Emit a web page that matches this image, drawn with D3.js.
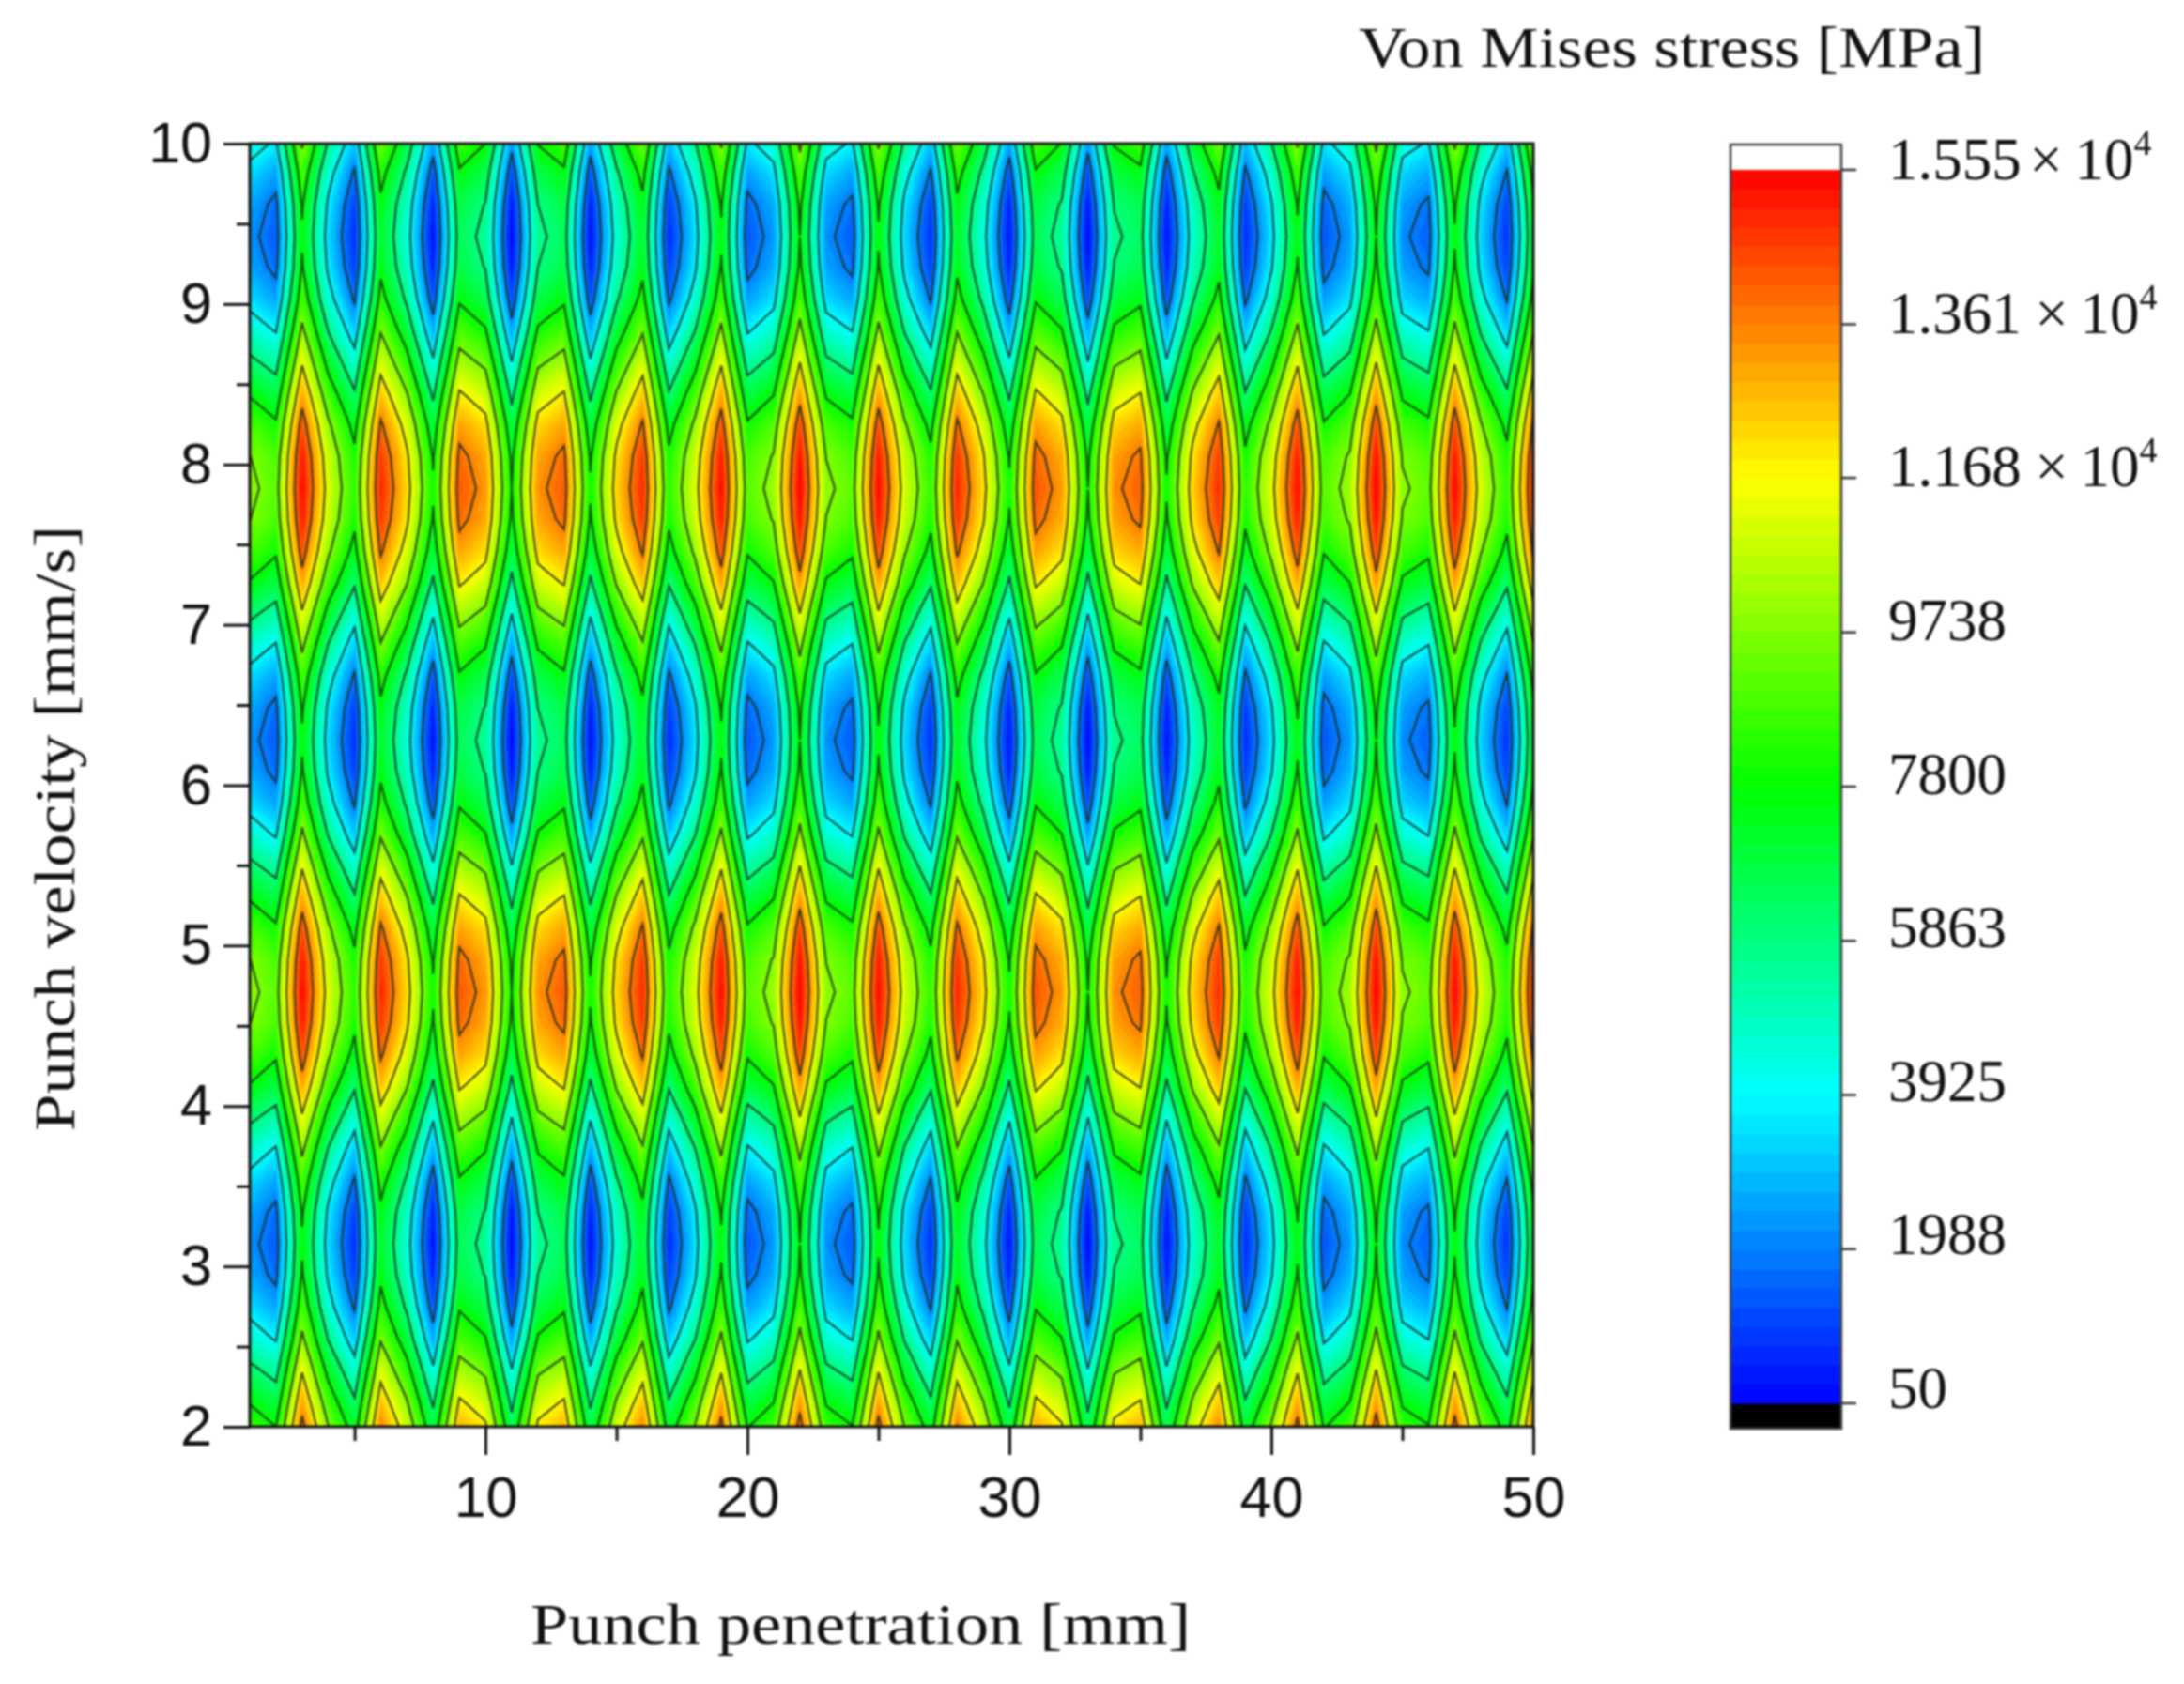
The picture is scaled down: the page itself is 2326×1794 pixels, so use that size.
<!DOCTYPE html>
<meta charset="utf-8">
<head>
<title>Von Mises stress contour</title>
<script type="text/javascript" src="https://cdn.jsdelivr.net/npm/d3@7"></script>
<style>
    body { margin: 0; background: #fff; }
    svg { display: block; filter: blur(0.8px); }
    .sans { font-family: "Liberation Sans", Arial, sans-serif; fill: #111; }
    .serif { font-family: "Liberation Serif", serif; fill: #111; }
</style>
</head>
<body>
<div id="chart"></div>
<script>

    // punch penetration [mm], one column per mm
    var penetration = d3.range(1, 51);

    // punch velocity [mm/s] of the rows
    var velocity = [2, 2.16, 2.36, 2.55, 2.75, 2.95, 3.14, 3.34, 3.53, 3.73, 3.93, 4.12, 4.32, 4.52, 4.71, 4.91, 5.11, 5.3, 5.5, 5.69, 5.89,
                    6.09, 6.28, 6.48, 6.68, 6.87, 7.07, 7.26, 7.46, 7.66, 7.85, 8.05, 8.25, 8.44, 8.64, 8.84, 9.03, 9.23, 9.42, 9.62, 9.82, 10];

    // stress [MPa] along a row, for x = 1..50
    var rowAt2 = [8720,7800,14050,9760,7080,13600,10860,6620,12890,11910,6450,11970,12840,6600,10930,13560,7040,9830,14030,7750,8780,14200,8660,7850,14070,9700,7120,13630,10790,6640,12940,11850,6460,12040,12780,6580,11000,13520,7010,9900,14010,7700,8840,14200,8590,7890,14090,9630,7150,13670];
    var rowAt10 = [4610,3690,9940,5650,2970,9490,6750,2510,8780,7800,2340,7860,8730,2490,6820,9450,2930,5720,9920,3640,4670,10090,4550,3740,9960,5590,3010,9520,6680,2530,8830,7740,2350,7930,8670,2470,6890,9410,2900,5790,9900,3590,4730,10090,4480,3780,9980,5520,3040,9560];
    var rowCrest = [10070,9150,15400,11110,8430,14950,12210,7970,14240,13260,7800,13320,14190,7950,12280,14910,8390,11180,15380,9100,10130,15550,10010,9200,15420,11050,8470,14980,12140,7990,14290,13200,7810,13390,14130,7930,12350,14870,8360,11250,15360,9050,10190,15550,9940,9240,15440,10980,8500,15020];
    var rowHigh = [9770,8850,15100,10810,8130,14650,11910,7670,13940,12960,7500,13020,13890,7650,11980,14610,8090,10880,15080,8800,9830,15250,9710,8900,15120,10750,8170,14680,11840,7690,13990,12900,7510,13090,13830,7630,12050,14570,8060,10950,15060,8750,9890,15250,9640,8940,15140,10680,8200,14720];
    var rowUpper = [8930,8010,14260,9970,7290,13810,11070,6830,13100,12120,6660,12180,13050,6810,11140,13770,7250,10040,14240,7960,8990,14410,8870,8060,14280,9910,7330,13840,11000,6850,13150,12060,6670,12250,12990,6790,11210,13730,7220,10110,14220,7910,9050,14410,8800,8100,14300,9840,7360,13880];
    var rowMidUp = [7670,6750,13000,8710,6030,12550,9810,5570,11840,10860,5400,10920,11790,5550,9880,12510,5990,8780,12980,6700,7730,13150,7610,6800,13020,8650,6070,12580,9740,5590,11890,10800,5410,10990,11730,5530,9950,12470,5960,8850,12960,6650,7790,13150,7540,6840,13040,8580,6100,12620];
    var rowMiddle = [6190,5270,11520,7230,4550,11070,8330,4090,10360,9380,3920,9440,10310,4070,8400,11030,4510,7300,11500,5220,6250,11670,6130,5320,11540,7170,4590,11100,8260,4110,10410,9320,3930,9510,10250,4050,8470,10990,4480,7370,11480,5170,6310,11670,6060,5360,11560,7100,4620,11140];
    var rowMidDown = [4710,3790,10040,5750,3070,9590,6850,2610,8880,7900,2440,7960,8830,2590,6920,9550,3030,5820,10020,3740,4770,10190,4650,3840,10060,5690,3110,9620,6780,2630,8930,7840,2450,8030,8770,2570,6990,9510,3000,5890,10000,3690,4830,10190,4580,3880,10080,5620,3140,9660];
    var rowLower = [3450,2530,8780,4490,1810,8330,5590,1350,7620,6640,1180,6700,7570,1330,5660,8290,1770,4560,8760,2480,3510,8930,3390,2580,8800,4430,1850,8360,5520,1370,7670,6580,1190,6770,7510,1310,5730,8250,1740,4630,8740,2430,3570,8930,3320,2620,8820,4360,1880,8400];
    var rowDeep = [2610,1690,7940,3650,970,7490,4750,510,6780,5800,340,5860,6730,490,4820,7450,930,3720,7920,1640,2670,8090,2550,1740,7960,3590,1010,7520,4680,530,6830,5740,350,5930,6670,470,4890,7410,900,3790,7900,1590,2730,8090,2480,1780,7980,3520,1040,7560];
    var rowTrough = [2310,1390,7640,3350,670,7190,4450,210,6480,5500,50,5560,6430,190,4520,7150,630,3420,7620,1340,2370,7790,2250,1440,7660,3290,710,7220,4380,230,6530,5440,50,5630,6370,170,4590,7110,600,3490,7600,1290,2430,7790,2180,1480,7680,3220,740,7260];

    // which row belongs to which velocity, bottom to top
    var rows = [rowAt2, rowMidUp, rowMiddle, rowMidDown, rowLower, rowDeep, rowTrough, rowDeep, rowLower, rowMidDown, rowMiddle,
                rowMidUp, rowUpper, rowHigh, rowCrest, rowHigh, rowUpper, rowMidUp, rowMiddle, rowMidDown, rowLower,
                rowDeep, rowTrough, rowDeep, rowLower, rowMidDown, rowMiddle, rowMidUp, rowUpper, rowHigh, rowCrest,
                rowHigh, rowUpper, rowMidUp, rowMiddle, rowMidDown, rowLower, rowDeep, rowTrough, rowDeep, rowLower, rowAt10];

    var xMajor = [10, 20, 30, 40, 50];
    var xMinor = [5, 15, 25, 35, 45];
    var yMajor = [2, 3, 4, 5, 6, 7, 8, 9, 10];
    var yMinor = [2.5, 3.5, 4.5, 5.5, 6.5, 7.5, 8.5, 9.5];

    // colour bar ticks, the contour lines sit on the inner ones
    var barTicks = [50, 1988, 3925, 5863, 7800, 9738, 11680, 13610, 15550];
    var barLabels = ["50", "1988", "3925", "5863", "7800", "9738", "1.168", "1.361", "1.555"];
    var lineLevels = [1988, 3925, 5863, 7800, 9738, 11680, 13610];
    var rainbowStops = [50, 3925, 7800, 11680, 15550];
    var rainbowColors = ["#0000ff", "#00ffff", "#00ff00", "#ffff00", "#ff0000"];

    var plot = {left: 266, right: 1633, top: 153, bottom: 1520};
    var bar = {left: 1843, right: 1961, top: 154, bottom: 1522, max: 181, min: 1495};

    var svg = d3.select("#chart").append("svg")
                .attr("width", 2326)
                .attr("height", 1794);

    var x = d3.scaleLinear().domain([1, 50]).range([plot.left, plot.right]);
    var y = d3.scaleLinear().domain([2, 10]).range([plot.bottom, plot.top]);

    // rows are not evenly spaced, so go from row number to velocity first
    var rowToVelocity = d3.scaleLinear().domain(d3.range(velocity.length)).range(velocity);

    var color = d3.scaleLinear().domain(rainbowStops).range(rainbowColors);

    // band edges of the filled contours, 8 bands between two ticks
    var bands = d3.range(0, 65).map(function (i) { return 50 + i * (15550 - 50) / 64; });

    var grid = [];
    rows.forEach(function (r) { grid = grid.concat(r); });

    var contours = d3.contours().size([penetration.length, velocity.length]);

    // contour coordinates have the first value at 0.5
    var path = d3.geoPath(d3.geoTransform({
        point: function (c, r) {
            this.stream.point(x(c + 0.5), y(rowToVelocity(r - 0.5)));
        }
    }));

    svg.append("clipPath").attr("id", "plot-clip").append("rect")
        .attr("x", plot.left).attr("y", plot.top)
        .attr("width", plot.right - plot.left)
        .attr("height", plot.bottom - plot.top);

    var field = svg.append("g").attr("clip-path", "url(#plot-clip)");

    field.selectAll("path.band")
        .data(bands.slice(0, -1))
        .enter().append("path")
        .attr("class", "band")
        .attr("d", function (t) { return path(contours.contour(grid, t)); })
        .attr("fill", function (t, i) { return color((t + bands[i + 1]) / 2); })
        .attr("stroke", function (t, i) { return color((t + bands[i + 1]) / 2); })
        .attr("stroke-width", 0.5);

    field.selectAll("path.line")
        .data(lineLevels)
        .enter().append("path")
        .attr("class", "line")
        .attr("d", function (t) { return path(contours.contour(grid, t)); })
        .attr("fill", "none")
        .attr("stroke", "#1c2a1c")
        .attr("stroke-opacity", 0.8)
        .attr("stroke-width", 2.2);

    // frame
    svg.append("rect")
        .attr("x", plot.left).attr("y", plot.top)
        .attr("width", plot.right - plot.left)
        .attr("height", plot.bottom - plot.top)
        .attr("fill", "none").attr("stroke", "#111").attr("stroke-width", 3);

    function styleAxis(g) {
        g.select(".domain").remove();
        g.selectAll("line").attr("stroke", "#111").attr("stroke-width", 3);
        g.selectAll("text").attr("class", "sans").attr("font-size", 61).attr("fill", null);
    }

    svg.append("g").attr("transform", "translate(0," + plot.bottom + ")")
        .call(d3.axisBottom(x).tickValues(xMinor).tickSize(15).tickFormat(""))
        .call(styleAxis);
    svg.append("g").attr("transform", "translate(0," + plot.bottom + ")")
        .call(d3.axisBottom(x).tickValues(xMajor).tickSize(30).tickPadding(23).tickFormat(d3.format("d")))
        .call(styleAxis);
    svg.append("g").attr("transform", "translate(" + plot.left + ",0)")
        .call(d3.axisLeft(y).tickValues(yMinor).tickSize(14).tickFormat(""))
        .call(styleAxis);
    svg.append("g").attr("transform", "translate(" + plot.left + ",0)")
        .call(d3.axisLeft(y).tickValues(yMajor).tickSize(28).tickPadding(12).tickFormat(d3.format("d")))
        .call(styleAxis);

    // colour bar
    var barY = d3.scaleLinear().domain([50, 15550]).range([bar.min, bar.max]);
    var labelY = d3.scaleLinear().domain([50, 15550]).range([1500, 191]);
    var barG = svg.append("g");

    barG.append("rect")
        .attr("x", bar.left).attr("y", bar.min)
        .attr("width", bar.right - bar.left).attr("height", bar.bottom - bar.min)
        .attr("fill", "#000");

    barG.selectAll("rect.step")
        .data(bands.slice(0, -1))
        .enter().append("rect")
        .attr("class", "step")
        .attr("x", bar.left)
        .attr("width", bar.right - bar.left)
        .attr("y", function (t, i) { return barY(bands[i + 1]); })
        .attr("height", function (t, i) { return barY(t) - barY(bands[i + 1]) + 0.5; })
        .attr("fill", function (t, i) { return color((t + bands[i + 1]) / 2); });

    barG.append("rect")
        .attr("x", bar.left).attr("y", bar.top)
        .attr("width", bar.right - bar.left).attr("height", bar.bottom - bar.top)
        .attr("fill", "none").attr("stroke", "#444").attr("stroke-width", 2.5);

    barG.selectAll("line.tick")
        .data(barTicks)
        .enter().append("line")
        .attr("class", "tick")
        .attr("x1", bar.right).attr("x2", bar.right + 16)
        .attr("y1", function (d) { return barY(d); })
        .attr("y2", function (d) { return barY(d); })
        .attr("stroke", "#333").attr("stroke-width", 2.5);

    var labels = barG.selectAll("text.barlabel")
        .data(barTicks)
        .enter().append("text")
        .attr("class", "barlabel serif")
        .attr("x", 2011)
        .attr("y", function (d) { return labelY(d); })
        .attr("font-size", 63);

    labels.append("tspan").text(function (d, i) { return barLabels[i]; });
    labels.filter(function (d) { return d > 10000; }).append("tspan")
        .text("\u2009×\u200910").attr("dx", function (d) { return d === 15550 ? -4 : 2; });
    labels.filter(function (d) { return d > 10000; }).append("tspan")
        .text("4").attr("font-size", 38).attr("dy", -26);

    // titles
    svg.append("text").attr("class", "serif")
        .attr("x", 1447).attr("y", 71)
        .attr("font-size", 62)
        .attr("textLength", 667).attr("lengthAdjust", "spacingAndGlyphs")
        .text("Von Mises stress [MPa]");

    svg.append("text").attr("class", "serif")
        .attr("x", 565).attr("y", 1751)
        .attr("font-size", 62)
        .attr("textLength", 703).attr("lengthAdjust", "spacingAndGlyphs")
        .text("Punch penetration [mm]");

    svg.append("text").attr("class", "serif")
        .attr("transform", "translate(79,1205) rotate(-90)")
        .attr("font-size", 62)
        .attr("textLength", 645).attr("lengthAdjust", "spacingAndGlyphs")
        .text("Punch velocity [mm/s]");

</script>
</body>
</html>
